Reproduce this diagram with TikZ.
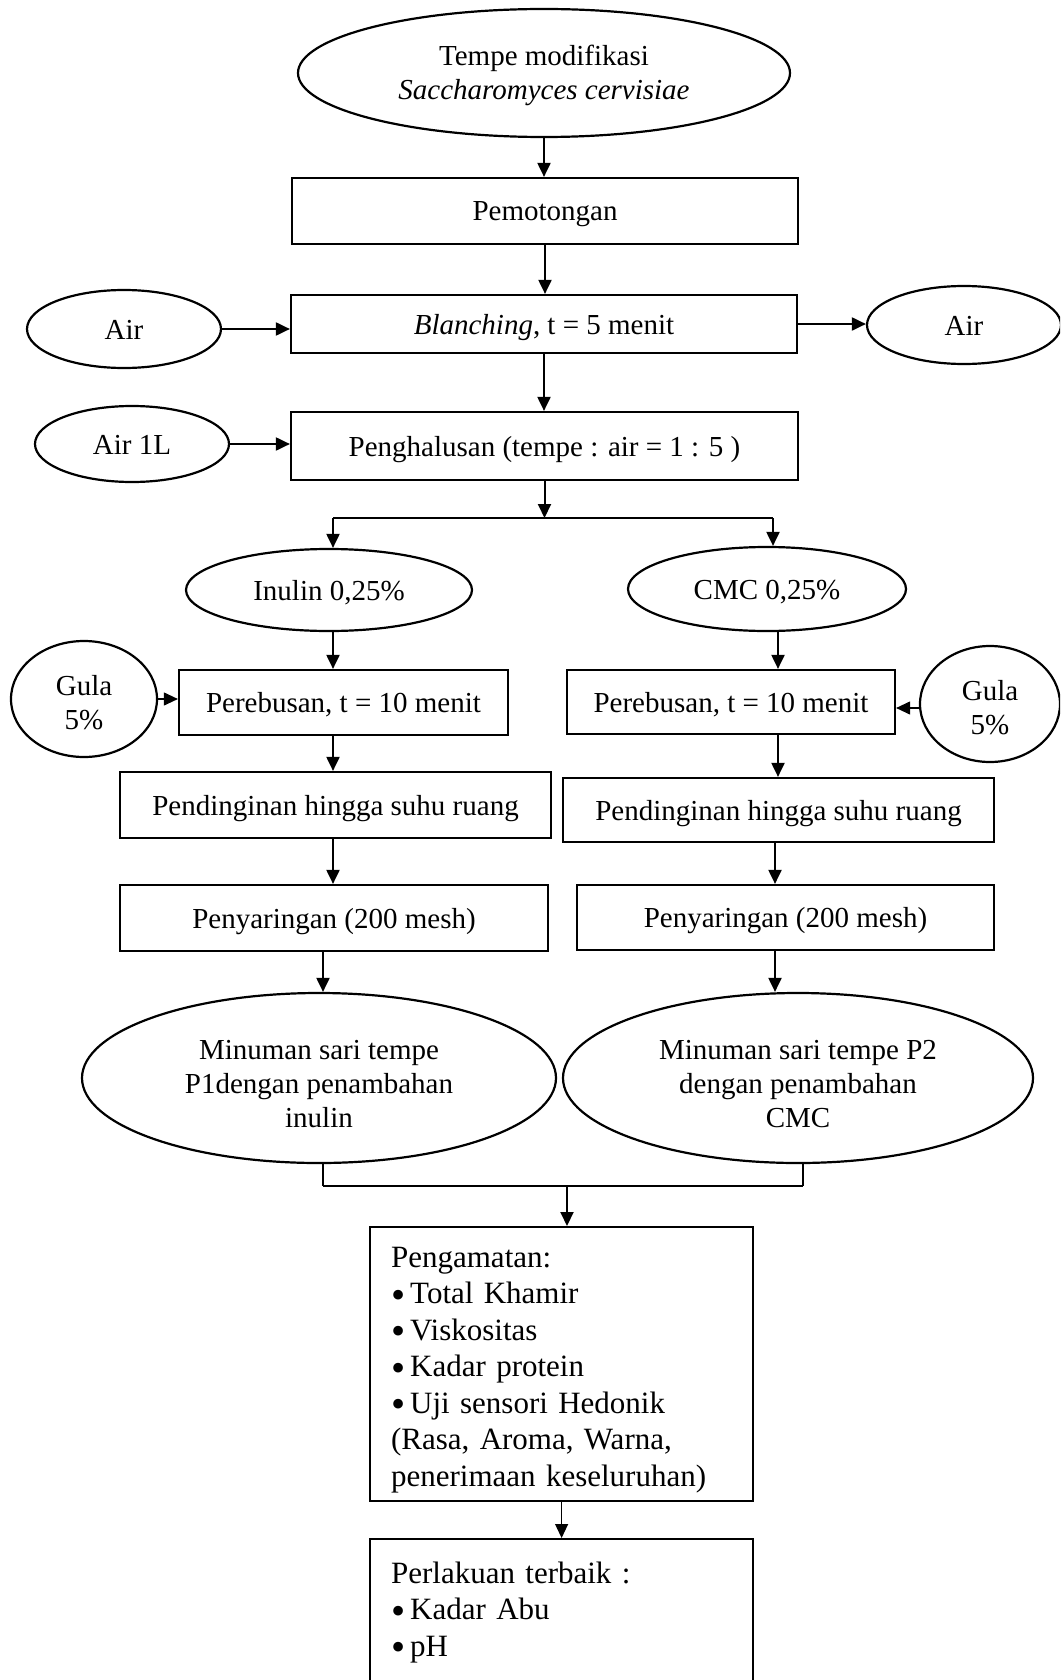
\documentclass[tikz,border=0pt]{standalone}
\usepackage{fontspec}
\setmainfont{Liberation Serif}
\usetikzlibrary{shapes.geometric,arrows.meta,calc}
\newcommand{\bigbul}{\raisebox{-4.5pt}[0pt][0pt]{\scalebox{1.3}{\textbullet}}\hspace{5pt}}
\begin{document}
\begin{tikzpicture}[x=1pt,y=-1pt,
  base/.style={draw=black,line width=2.2pt,inner sep=0pt,font=\fontsize{29}{34}\selectfont,align=center},
  boxn/.style={base,rectangle},
  ell/.style={base,ellipse},
  one/.style={text height=20pt,text depth=0pt},
  arr/.style={line width=2pt,-{Triangle[length=14pt,width=13pt]}},
  tarr/.style={line width=1.1pt,-{Triangle[length=14pt,width=13pt]}},
  ln/.style={line width=2pt},
  tln/.style={line width=1.2pt},
  obs/.style={boxn,anchor=north west,minimum width=383pt,align=left,text width=341pt,inner xsep=21pt,inner ysep=8pt,font=\fontsize{31}{36.5}\selectfont}]
\useasboundingbox (0,0) rectangle (1060,1680);
\clip (0,0) rectangle (1060,1680);
\fill[white] (0,0) rectangle (1060,1680);

% nodes
\node[ell,minimum width=492pt,minimum height=128pt] (top) at (544,73) {\rule{0pt}{26pt}Tempe modifikasi\\\textit{Saccharomyces cervisiae}};
\node[boxn,one,minimum width=506pt,minimum height=66pt] (pem) at (545,211) {Pemotongan};
\node[boxn,one,minimum width=506pt,minimum height=58pt] (blanch) at (544,324) {\textit{Blanching}, t = 5 menit};
\node[ell,one,minimum width=194pt,minimum height=78pt] (airL) at (124,329) {Air};
\node[ell,one,minimum width=194pt,minimum height=78pt] (airR) at (964,325) {Air};
\node[boxn,one,minimum width=507pt,minimum height=68pt] (pengh) at (544.5,446) {Penghalusan (tempe : air = 1 : 5 )};
\node[ell,one,minimum width=194pt,minimum height=76pt] (air1L) at (132,444) {Air 1L};

\node[ell,one,minimum width=286pt,minimum height=82pt] (inulin) at (329,590) {Inulin 0,25\%};
\node[ell,one,minimum width=278pt,minimum height=84pt] (cmc) at (767,589) {CMC 0,25\%};

\node[boxn,one,minimum width=329pt,minimum height=65pt] (pereL) at (343.5,702.5) {Perebusan, t = 10 menit};
\node[boxn,one,minimum width=328pt,minimum height=64pt] (pereR) at (731,702) {Perebusan, t = 10 menit};
\node[ell,minimum width=146pt,minimum height=116pt] (gulaL) at (84,699) {\rule{0pt}{28pt}Gula\\5\%};
\node[ell,minimum width=140pt,minimum height=116pt] (gulaR) at (990,704) {\rule{0pt}{28pt}Gula\\5\%};

\node[boxn,one,minimum width=431pt,minimum height=66pt] (pendL) at (335.5,805) {Pendinginan hingga suhu ruang};
\node[boxn,one,minimum width=431pt,minimum height=64pt] (pendR) at (778.5,810) {Pendinginan hingga suhu ruang};

\node[boxn,one,minimum width=428pt,minimum height=66pt] (penyL) at (334,918) {Penyaringan (200 mesh)};
\node[boxn,one,minimum width=417pt,minimum height=65pt] (penyR) at (785.5,917.5) {Penyaringan (200 mesh)};

\node[ell,minimum width=474pt,minimum height=170pt] (minL) at (319,1078) {\rule{0pt}{32pt}Minuman sari tempe\\P1dengan penambahan\\inulin};
\node[ell,minimum width=470pt,minimum height=170pt] (minR) at (798,1078) {\rule{0pt}{32pt}Minuman sari tempe P2\\dengan penambahan\\CMC};

\node[obs] (peng) at (369,1226)
{\rule{0pt}{32pt}Pengamatan:\\
\bigbul Total Khamir\\
\bigbul Viskositas\\
\bigbul Kadar protein\\
\bigbul Uji sensori Hedonik\\
(Rasa, Aroma, Warna,\\
penerimaan keseluruhan)};

\node[obs] (perl) at (369,1538)
{\rule{0pt}{36pt}Perlakuan terbaik :\\
\bigbul Kadar Abu\\
\bigbul pH\rule[-30pt]{0pt}{30pt}};

% helper coordinates
\coordinate (xL) at (333,0);
\coordinate (xLb) at (323,0);
\coordinate (xRa) at (778,0);
\coordinate (xRb) at (775,0);
\coordinate (spL) at (333,518);
\coordinate (spR) at (773,518);
\coordinate (jL) at (323,1186);
\coordinate (jR) at (803,1186);
\coordinate (jM) at (567,1186);

% connectors
\draw[arr] (top.south) -- (top.south |- pem.north);
\draw[arr] (pem.south) -- (pem.south |- blanch.north);
\draw[arr] (airL.east) -- (airL.east -| blanch.west);
\draw[arr] (blanch.east) -- (blanch.east -| airR.west);
\draw[arr] (blanch.south) -- (blanch.south |- pengh.north);
\draw[arr] (air1L.east) -- (air1L.east -| pengh.west);
\draw[arr] (pengh.south) -- (pengh.south |- spL);
\draw[ln] (spL) -- (spR);
\draw[arr] (spL) -- (spL |- inulin.north);
\draw[arr] (spR) -- (spR |- cmc.north);
\draw[arr] (inulin.south -| xL) -- (pereL.north -| xL);
\draw[arr] (cmc.south -| xRa) -- (pereR.north -| xRa);
\draw[tarr] (gulaL.east) -- (gulaL.east -| pereL.west);
\draw[tarr] ([yshift=-4pt]gulaR.west) -- ([yshift=-4pt]gulaR.west -| pereR.east);
\draw[arr] (pereL.south -| xL) -- (pendL.north -| xL);
\draw[arr] (pereR.south -| xRa) -- (pendR.north -| xRa);
\draw[arr] (pendL.south -| xL) -- (penyL.north -| xL);
\draw[arr] (pendR.south -| xRb) -- (penyR.north -| xRb);
\draw[arr] (penyL.south -| xLb) -- (minL.north -| xLb);
\draw[arr] (penyR.south -| xRb) -- (minR.north -| xRb);
\draw[tln] (jL |- minL.south) -- (jL);
\draw[tln] (jR) -- (jR |- minR.south);
\draw[ln] (jL) -- (jR);
\draw[arr] (jM) -- (jM |- peng.north);
\draw[tarr] (peng.south) -- (perl.north);
\end{tikzpicture}
\end{document}
